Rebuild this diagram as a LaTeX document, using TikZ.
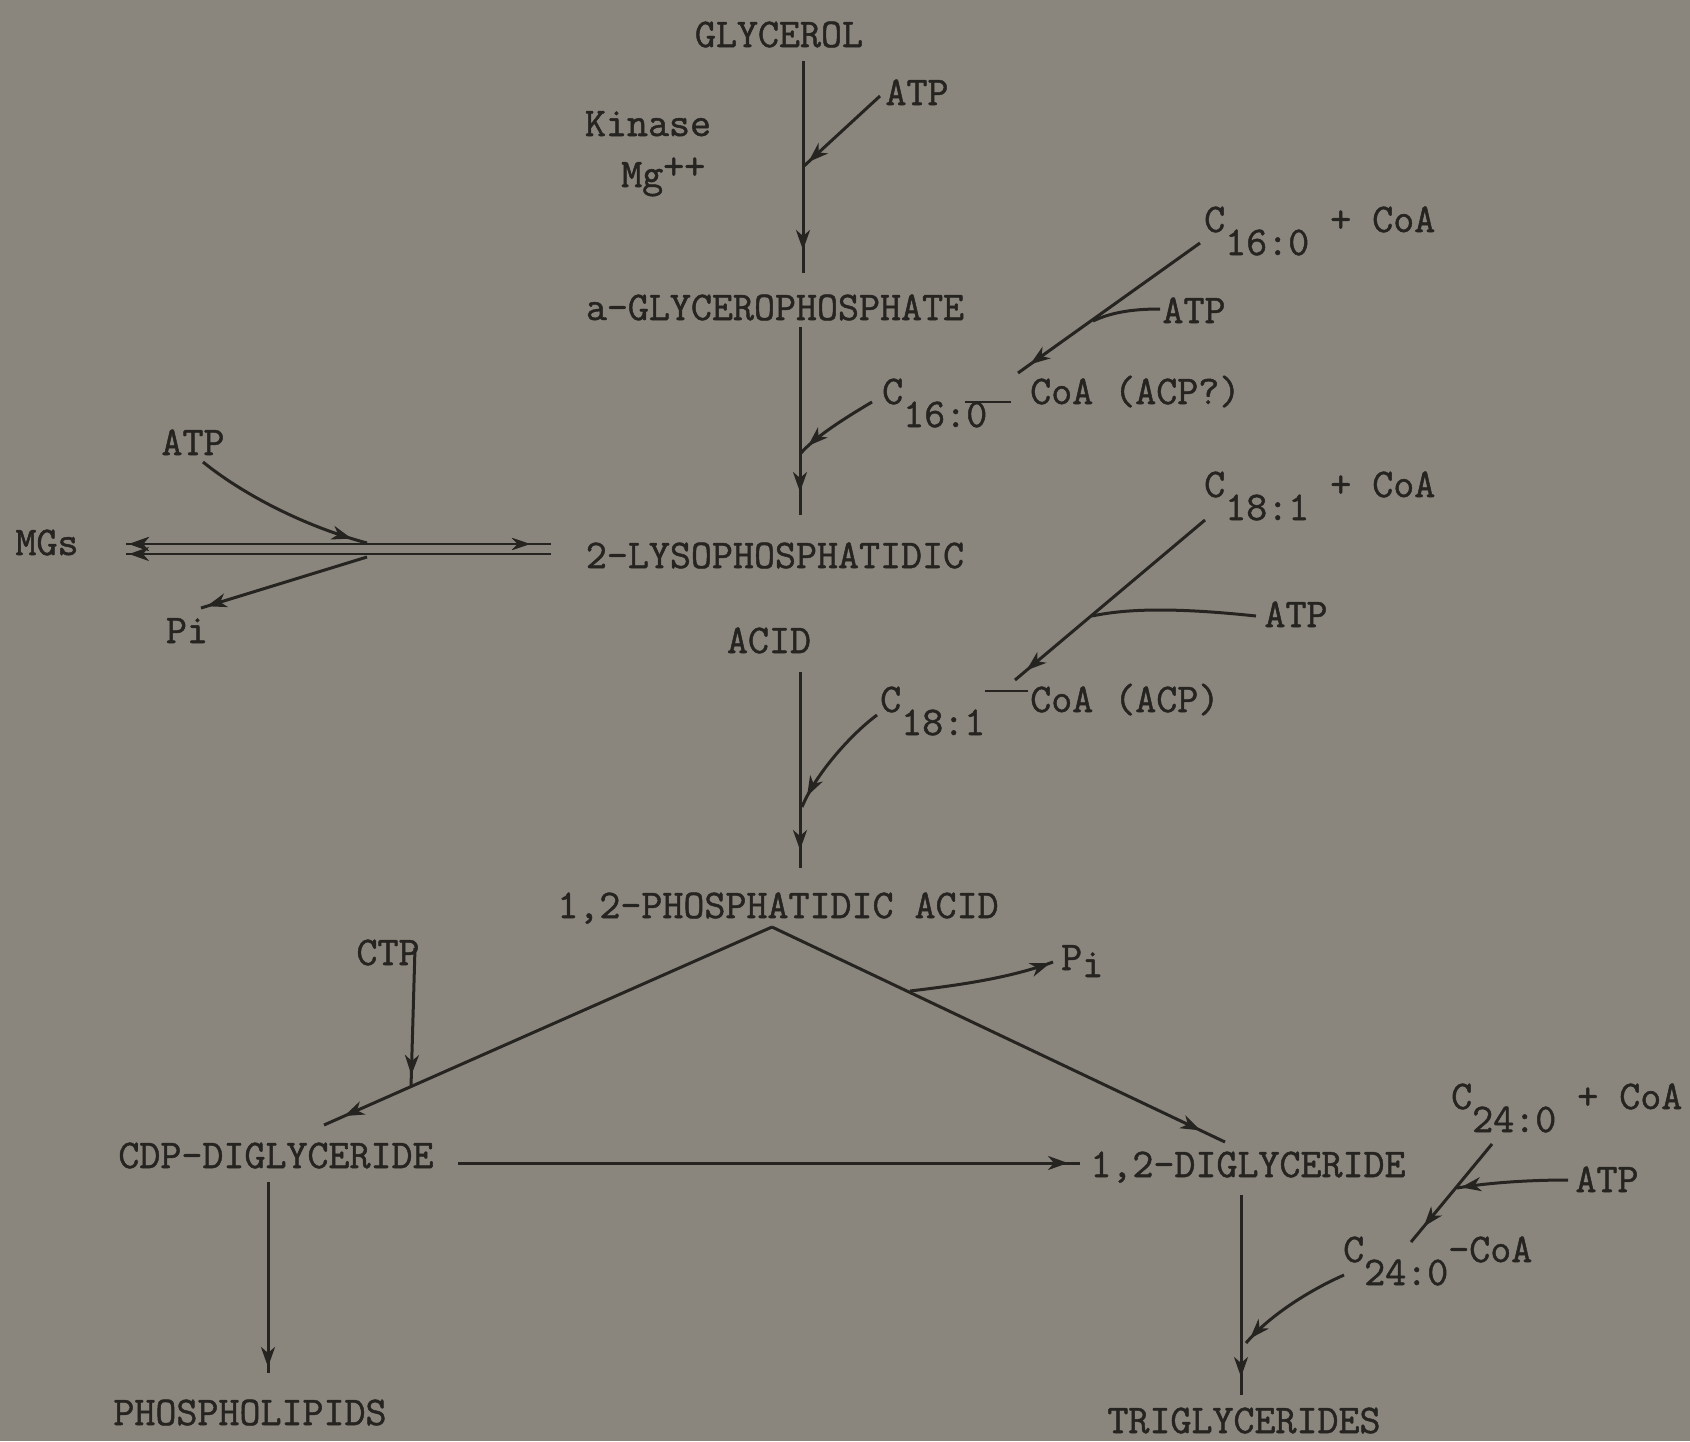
\documentclass[tikz,border=0pt]{standalone}
\usepackage{fontspec}
\newfontfamily\tw{Latin Modern Mono}[FakeBold=1.2]
\usetikzlibrary{arrows.meta,decorations.markings}
\definecolor{paper}{RGB}{139,134,125}
\definecolor{ink}{RGB}{38,36,33}
\newcommand{\lo}[1]{\raisebox{-23pt}{#1}}
\tikzset{
  lab/.style={font=\tw\fontsize{40.8pt}{48pt}\selectfont, text=ink, inner sep=0pt},
  ln/.style={draw=ink, line width=3pt},
  dbl/.style={draw=ink, line width=2.2pt},
  ahead/.style={postaction={decorate}, decoration={markings, mark=at position #1 with {\arrow[ink]{Stealth[length=20pt,width=14pt,inset=6pt]}}}},
  aheadr/.style={postaction={decorate}, decoration={markings, mark=at position #1 with {\arrowreversed[ink]{Stealth[length=18pt,width=12pt,inset=6pt]}}}},
}
\begin{document}
\begin{tikzpicture}[x=1pt,y=-1pt]
\fill[paper] (0,0) rectangle (1690,1441);
\useasboundingbox (0,0) rectangle (1690,1441);

% labels
\node[lab, anchor=base] (gly) at (779,47) {GLYCEROL};
\node[lab, anchor=base] (kin) at (648,136) {Kinase};
\node[lab, anchor=base west] (mg) at (621,187) {Mg\raisebox{8pt}{++}};
\node[lab, anchor=base] (atp1) at (917,105) {ATP};
\node[lab, anchor=base] (agp) at (775,320) {a-GLYCEROPHOSPHATE};
\node[lab, anchor=base west] (c16a) at (1204,232) {C\lo{16:0} + CoA};
\node[lab, anchor=base] (atp2) at (1194,323) {ATP};
\node[lab, anchor=base west] (c16b) at (882,404) {C\lo{16:0}\kern-22pt\rule[1pt]{46pt}{2.5pt}\kern19pt CoA (ACP?)};
\node[lab, anchor=base] (lyso) at (775,568) {2-LYSOPHOSPHATIDIC};
\node[lab, anchor=base] (acid) at (769,653) {ACID};
\node[lab, anchor=base] (mgs) at (47,555) {MGs};
\node[lab, anchor=base] (atpL) at (193,455) {ATP};
\node[lab, anchor=base] (piL) at (187,643) {Pi};
\node[lab, anchor=base west] (c18a) at (1204,497) {C\lo{18:1} + CoA};
\node[lab, anchor=base] (atp3) at (1296,627) {ATP};
\node[lab, anchor=base west] (c18b) at (880,712) {C\lo{18:1}\rule[20pt]{43pt}{2.5pt}\kern2pt CoA (ACP)};
\node[lab, anchor=base] (pa) at (778,918) {1,2-PHOSPHATIDIC ACID};
\node[lab, anchor=base] (ctp) at (388,965) {CTP};
\node[lab, anchor=base west] (piR) at (1061,970) {P\raisebox{-7pt}{i}};
\node[lab, anchor=base] (cdp) at (276,1168) {CDP-DIGLYCERIDE};
\node[lab, anchor=base] (dg) at (1248,1177) {1,2-DIGLYCERIDE};
\node[lab, anchor=base west] (c24a) at (1451,1109) {C\lo{24:0} + CoA};
\node[lab, anchor=base] (atp4) at (1607,1192) {ATP};
\node[lab, anchor=base west] (c24b) at (1343,1262) {C\lo{24:0}-CoA};
\node[lab, anchor=base] (pl) at (250,1425) {PHOSPHOLIPIDS};
\node[lab, anchor=base] (tg) at (1244,1433) {TRIGLYCERIDES};

% connector end points
\coordinate (l1a) at (803,61);   \coordinate (l1b) at (803,273);
\coordinate (atp1s) at (880,96); \coordinate (j1) at (804,166);
\coordinate (l2a) at (800,327);  \coordinate (l2b) at (800,515);
\coordinate (c16s) at (1200,243); \coordinate (c16e) at (1018,373);
\coordinate (atp2s) at (1160,309); \coordinate (j16) at (1093,321);
\coordinate (c16bs) at (872,402); \coordinate (j2) at (801,453);
\coordinate (l3a) at (800,672);  \coordinate (l3b) at (800,868);
\coordinate (c18s) at (1205,520); \coordinate (c18e) at (1015,680);
\coordinate (atp3s) at (1256,616); \coordinate (j18) at (1092,616);
\coordinate (c18bs) at (877,715); \coordinate (j3) at (802,807);
\coordinate (atpLs) at (203,462); \coordinate (jL) at (367,543);
\coordinate (jL2) at (367,557); \coordinate (piLe) at (201,608);
\coordinate (du1) at (551,544); \coordinate (du2) at (126,544);
\coordinate (dl1) at (551,554); \coordinate (dl2) at (126,554);
\coordinate (apex) at (772,927);
\coordinate (pal) at (324,1125); \coordinate (par) at (1225,1142);
\coordinate (ctps) at (415,948); \coordinate (jc) at (411,1087);
\coordinate (jp) at (910,991); \coordinate (piRe) at (1053,962);
\coordinate (hs) at (458,1163); \coordinate (he) at (1080,1163);
\coordinate (l4a) at (1241,1195); \coordinate (l4b) at (1241,1395);
\coordinate (c24s) at (1492,1144); \coordinate (c24e) at (1411,1242);
\coordinate (atp4s) at (1568,1180); \coordinate (j24) at (1457,1188);
\coordinate (c24bs) at (1344,1275); \coordinate (j4) at (1246,1343);
\coordinate (l5a) at (268,1182); \coordinate (l5b) at (268,1373);

% glycerol -> a-GP
\draw[ln, ahead=-23pt] (l1a) -- (l1b);
\draw[ln, ahead=-6pt] (atp1s) -- (j1);
% a-GP -> lyso
\draw[ln, ahead=-23pt] (l2a) -- (l2b);
\draw[ln, ahead=-15pt] (c16s) -- (c16e);
\draw[ln] (atp2s) .. controls (1130,309) and (1110,313) .. (j16);
\draw[ln, ahead=-10pt] (c16bs) .. controls (845,418) and (815,437) .. (j2);
% acid -> PA
\draw[ln, ahead=-18pt] (l3a) -- (l3b);
\draw[ln, ahead=-15pt] (c18s) -- (c18e);
\draw[ln] (atp3s) .. controls (1180,608) and (1130,608) .. (j18);
\draw[ln, ahead=-12pt] (c18bs) .. controls (850,735) and (815,775) .. (j3);
% MGs exchange
\draw[dbl, ahead=-3pt, aheadr=21pt] (du1) -- (du2);
\draw[dbl, ahead=-3pt] (dl1) -- (dl2);
\draw[ln, ahead=-16pt] (atpLs) .. controls (240,492) and (300,525) .. (jL);
\draw[ln, ahead=-6pt] (jL2) -- (piLe);
% PA branches
\draw[ln, ahead=-22pt] (apex) -- (pal);
\draw[ln, ahead=-27pt] (apex) -- (par);
\draw[ln, ahead=-12pt] (ctps) -- (jc);
\draw[ln, ahead=-3pt] (jp) .. controls (960,985) and (1010,978) .. (piRe);
\draw[ln, ahead=-12pt] (hs) -- (he);
% DG -> TG
\draw[ln, ahead=-18pt] (l4a) -- (l4b);
\draw[ln, ahead=-20pt] (c24s) -- (c24e);
\draw[ln, ahead=-4pt] (atp4s) .. controls (1520,1180) and (1480,1184) .. (j24);
\draw[ln, ahead=-6pt] (c24bs) .. controls (1310,1290) and (1270,1315) .. (j4);
% CDP -> PL
\draw[ln, ahead=-6pt] (l5a) -- (l5b);
\end{tikzpicture}
\end{document}
